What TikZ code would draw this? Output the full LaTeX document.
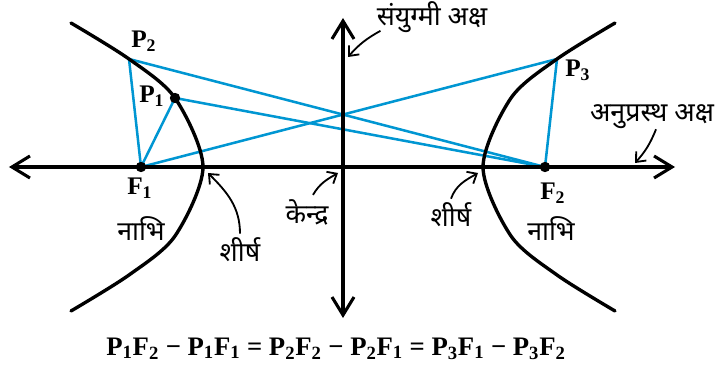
\documentclass[tikz,border=0pt]{standalone}
\usepackage{fontspec}
\setmainfont{Liberation Serif}
\newfontfamily\hindi[Script=Devanagari]{Noto Sans}
\usetikzlibrary{arrows.meta,positioning}
\definecolor{raycyan}{RGB}{0,150,210}
\tikzset{
  axisline/.style={line width=2.2pt,
                   {Straight Barb[length=4.5mm,width=5.5mm]}-{Straight Barb[length=4.5mm,width=5.5mm]}},
  branch/.style={line width=2.4pt, line cap=round},
  focalray/.style={line width=1.8pt, draw=raycyan},
  pointer/.style={line width=1.3pt, -{Straight Barb[length=2mm,width=3.4mm]}},
  focusdot/.style={circle, fill=black, inner sep=0pt, minimum size=2.6mm},
  ptlabel/.style={font=\fontsize{18}{20}\selectfont\bfseries, inner sep=0pt},
  hinlabel/.style={font=\hindi\fontsize{19}{21}\selectfont, inner sep=0pt}
}

\begin{document}
\begin{tikzpicture}
\useasboundingbox (-8.575,-5.125) rectangle (9.45,4.175);
% points on the branches and foci
\coordinate (P1) at (-4.2,1.725);
\coordinate (P2) at (-5.35,2.7);
\coordinate (P3) at (5.35,2.7);
\coordinate (F1) at (-5.05,0);
\coordinate (F2) at (5.05,0);
\draw[focalray] (P1) -- (F1) (P1) -- (F2);
\draw[focalray] (P2) -- (F1) (P2) -- (F2);
\draw[focalray] (P3) -- (F1) (P3) -- (F2);
% axes
\draw[axisline] (-8.35,0) -- (8.3,0);
\draw[axisline] (0,-3.775) -- (0,3.725);
% branches
\draw[branch] plot[smooth] coordinates {(-6.8,3.6) (-5.35,2.7) (-4.2,1.725) (-3.5,0)
  (-4.2,-1.725) (-5.35,-2.7) (-6.8,-3.6)};
\draw[branch] plot[smooth] coordinates {(6.8,3.6) (5.35,2.7) (4.2,1.725) (3.5,0)
  (4.2,-1.725) (5.35,-2.7) (6.8,-3.6)};
\node[focusdot] (F1dot) at (F1) {};
\node[focusdot] (F2dot) at (F2) {};
\node[focusdot] (P1dot) at (P1) {};
% point labels
\node[ptlabel, anchor=base west] (P2lbl) at (-5.3,2.975) {P\textsubscript{2}};
\node[ptlabel, anchor=base west] (P1lbl) at (-5.1,1.6) {P\textsubscript{1}};
\node[ptlabel, anchor=base west] (P3lbl) at (5.55,2.25) {P\textsubscript{3}};
\node[ptlabel, anchor=base west] (F1lbl) at (-5.4,-0.7) {F\textsubscript{1}};
\node[ptlabel, anchor=base west] (F2lbl) at (4.925,-0.825) {F\textsubscript{2}};
% hindi labels
\node[hinlabel] (conj) at (2.225,3.75) {संयुग्मी अक्ष};
\node[hinlabel] (trans) at (7.725,1.25) {अनुप्रस्थ अक्ष};
\node[hinlabel] (focL) at (-5.05,-1.55) {नाभि};
\node[hinlabel] (focR) at (5.2,-1.55) {नाभि};
\node[hinlabel] (vertL) at (-2.575,-2.075) {शीर्ष};
\node[hinlabel] (vertR) at (2.7,-1.2) {शीर्ष};
\node[hinlabel] (centre) at (-0.9,-1.125) {केन्द्र};
% pointers
\coordinate (conjtip) at (0.125,2.75);
\coordinate (transtip) at (7.3,0.1);
\coordinate (vertLtip) at (-3.375,-0.15);
\coordinate (vertRtip) at (3.375,-0.15);
\coordinate (centretip) at (-0.125,-0.15);
\draw[pointer] ([shift={(0.1,0.05)}]conj.south west) to[bend right=10] (conjtip);
\draw[pointer] ([shift={(0.1,0)}]trans.south) to[bend left=10] (transtip);
\draw[pointer] ([yshift=1mm]vertL.north) to[out=90,in=-45] (vertLtip);
\draw[pointer] ([shift={(1.5mm,1mm)}]centre.north) to[out=60,in=-150] (centretip);
\draw[pointer] ([yshift=1mm]vertR.north) to[out=70,in=-150] (vertRtip);
% relation
\node[font=\fontsize{19}{21}\selectfont\bfseries, anchor=base] (law) at (-0.175,-4.7)
  {P\textsubscript{1}F\textsubscript{2} − P\textsubscript{1}F\textsubscript{1} =
   P\textsubscript{2}F\textsubscript{2} − P\textsubscript{2}F\textsubscript{1} =
   P\textsubscript{3}F\textsubscript{1} − P\textsubscript{3}F\textsubscript{2}};
\end{tikzpicture}
\end{document}
